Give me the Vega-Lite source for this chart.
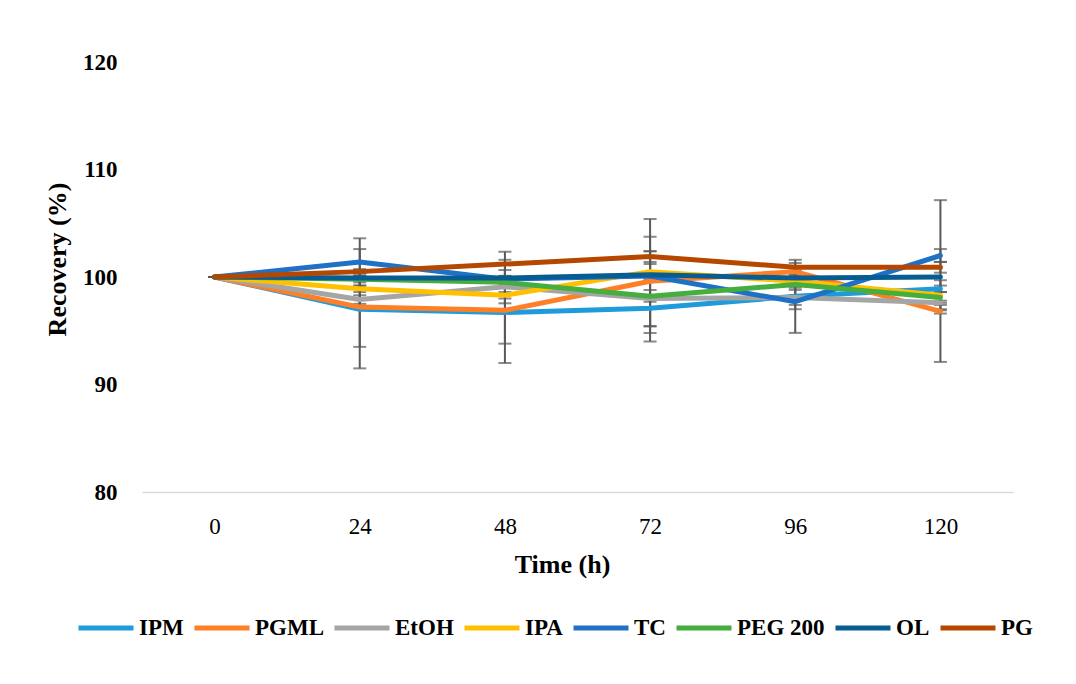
{
  "$schema": "https://vega.github.io/schema/vega-lite/v6.json",
  "width": 871,
  "height": 430,
  "autosize": {"type": "none"},
  "padding": {"left": 142, "top": 62, "right": 63, "bottom": 192},
  "background": "white",
  "config": {"view": {"stroke": null}, "font": "Liberation Serif"},
  "data": {"values": [
    {"s":"IPM","t":0,"v":100,"lo":100,"hi":100},
    {"s":"IPM","t":24,"v":97.0,"lo":91.5,"hi":102.6},
    {"s":"IPM","t":48,"v":96.7,"lo":92.0,"hi":101.6},
    {"s":"IPM","t":72,"v":97.1,"lo":95.4,"hi":98.8},
    {"s":"IPM","t":96,"v":98.2,"lo":97.0,"hi":99.4},
    {"s":"IPM","t":120,"v":98.9,"lo":98.6,"hi":99.2},
    {"s":"PGML","t":0,"v":100,"lo":100,"hi":100},
    {"s":"PGML","t":24,"v":97.2,"lo":93.5,"hi":100.7},
    {"s":"PGML","t":48,"v":96.9,"lo":93.8,"hi":100.0},
    {"s":"PGML","t":72,"v":99.6,"lo":95.45,"hi":103.75},
    {"s":"PGML","t":96,"v":100.5,"lo":99.7,"hi":101.3},
    {"s":"PGML","t":120,"v":96.8,"lo":96.6,"hi":97.0},
    {"s":"EtOH","t":0,"v":100,"lo":100,"hi":100},
    {"s":"EtOH","t":24,"v":97.9,"lo":97.5,"hi":98.3},
    {"s":"EtOH","t":48,"v":99.1,"lo":97.55,"hi":100.65},
    {"s":"EtOH","t":72,"v":98.0,"lo":97.7,"hi":98.3},
    {"s":"EtOH","t":96,"v":98.1,"lo":97.4,"hi":98.8},
    {"s":"EtOH","t":120,"v":97.6,"lo":97.4,"hi":97.8},
    {"s":"IPA","t":0,"v":100,"lo":100,"hi":100},
    {"s":"IPA","t":24,"v":98.9,"lo":98.6,"hi":99.2},
    {"s":"IPA","t":48,"v":98.3,"lo":98.0,"hi":98.6},
    {"s":"IPA","t":72,"v":100.5,"lo":99.8,"hi":101.2},
    {"s":"IPA","t":96,"v":99.6,"lo":99.3,"hi":99.9},
    {"s":"IPA","t":120,"v":98.3,"lo":96.9,"hi":99.7},
    {"s":"TC","t":0,"v":100,"lo":100,"hi":100},
    {"s":"TC","t":24,"v":101.4,"lo":99.2,"hi":103.6},
    {"s":"TC","t":48,"v":99.8,"lo":99.5,"hi":100.1},
    {"s":"TC","t":72,"v":100.1,"lo":94.8,"hi":105.4},
    {"s":"TC","t":96,"v":97.7,"lo":94.8,"hi":100.6},
    {"s":"TC","t":120,"v":102.0,"lo":101.4,"hi":102.6},
    {"s":"PEG 200","t":0,"v":100,"lo":100,"hi":100},
    {"s":"PEG 200","t":24,"v":99.8,"lo":99.5,"hi":100.1},
    {"s":"PEG 200","t":48,"v":99.5,"lo":99.3,"hi":99.7},
    {"s":"PEG 200","t":72,"v":98.2,"lo":94.0,"hi":102.4},
    {"s":"PEG 200","t":96,"v":99.3,"lo":99.0,"hi":99.6},
    {"s":"PEG 200","t":120,"v":98.1,"lo":97.6,"hi":98.6},
    {"s":"OL","t":0,"v":100,"lo":100,"hi":100},
    {"s":"OL","t":24,"v":99.9,"lo":99.7,"hi":100.1},
    {"s":"OL","t":48,"v":99.9,"lo":99.7,"hi":100.1},
    {"s":"OL","t":72,"v":100.2,"lo":100.0,"hi":100.4},
    {"s":"OL","t":96,"v":99.9,"lo":99.6,"hi":100.2},
    {"s":"OL","t":120,"v":100.0,"lo":92.1,"hi":107.15},
    {"s":"PG","t":0,"v":100,"lo":100,"hi":100},
    {"s":"PG","t":24,"v":100.5,"lo":100.3,"hi":100.7},
    {"s":"PG","t":48,"v":101.2,"lo":100.0,"hi":102.35},
    {"s":"PG","t":72,"v":101.9,"lo":101.4,"hi":102.4},
    {"s":"PG","t":96,"v":100.9,"lo":100.2,"hi":101.6},
    {"s":"PG","t":120,"v":100.9,"lo":100.4,"hi":101.4}
  ]},
  "encoding": {
    "x": {
      "field": "t", "type": "ordinal",
      "scale": {"type": "point", "padding": 0.5},
      "axis": {
        "title": "Time (h)", "labelAngle": 0, "ticks": false, "tickSize": 0, "grid": false,
        "domainColor": "#D9D9D9", "domainWidth": 1.5,
        "labelFont": "Liberation Serif", "labelFontSize": 23, "labelColor": "#000000", "labelPadding": 23,
        "titleFont": "Liberation Serif", "titleFontSize": 26, "titleFontWeight": "bold", "titleColor": "#000000",
        "titleBaseline": "alphabetic", "titleY": 80, "titleX": 420, "titleAlign": "center"
      }
    }
  },
  "layer": [
    {
      "mark": {"type": "rule", "color": "#595959", "strokeWidth": 2},
      "encoding": {
        "y": {"field": "lo", "type": "quantitative", "title": "Recovery (%)", "scale": {"domain": [80, 120], "nice": false, "zero": false},
          "axis": {
            "values": [80, 90, 100, 110, 120], "domain": false, "ticks": false, "tickSize": 0, "grid": false,
            "labelFont": "Liberation Serif", "labelFontSize": 23, "labelFontWeight": "bold", "labelColor": "#000000", "labelPadding": 25,
            "titleFont": "Liberation Serif", "titleFontSize": 26, "titleFontWeight": "bold", "titleColor": "#000000",
            "titleAngle": -90, "titleX": -85, "titleY": 197, "titleAlign": "center", "titleBaseline": "middle"
          }},
        "y2": {"field": "hi"}
      }
    },
    {
      "mark": {"type": "tick", "orient": "horizontal", "color": "#595959", "size": 13, "thickness": 2},
      "encoding": {"y": {"field": "lo", "type": "quantitative", "title": "Recovery (%)"}}
    },
    {
      "mark": {"type": "tick", "orient": "horizontal", "color": "#595959", "size": 13, "thickness": 2},
      "encoding": {"y": {"field": "hi", "type": "quantitative", "title": "Recovery (%)"}}
    },
    {
      "mark": {"type": "line", "strokeWidth": 5, "strokeCap": "round", "strokeJoin": "round"},
      "encoding": {
        "y": {"field": "v", "type": "quantitative", "title": "Recovery (%)"},
        "color": {
          "field": "s", "type": "nominal",
          "scale": {
            "domain": ["IPM", "PGML", "EtOH", "IPA", "TC", "PEG 200", "OL", "PG"],
            "range": ["#1F9BDB", "#FF7F27", "#A5A5A5", "#FFC000", "#1F71C6", "#45AE3E", "#075D92", "#B54700"]
          },
          "legend": {
            "title": null, "orient": "none", "direction": "horizontal", "legendX": -66, "legendY": 536,
            "padding": 0, "symbolType": "stroke", "symbolSize": 3025, "symbolStrokeWidth": 5,
            "labelFont": "Liberation Serif", "labelFontSize": 23, "labelFontWeight": "bold", "labelColor": "#000000",
            "labelOffset": 3, "columnPadding": 0, "labelLimit": 200
          }
        }
      }
    }
  ]
}
